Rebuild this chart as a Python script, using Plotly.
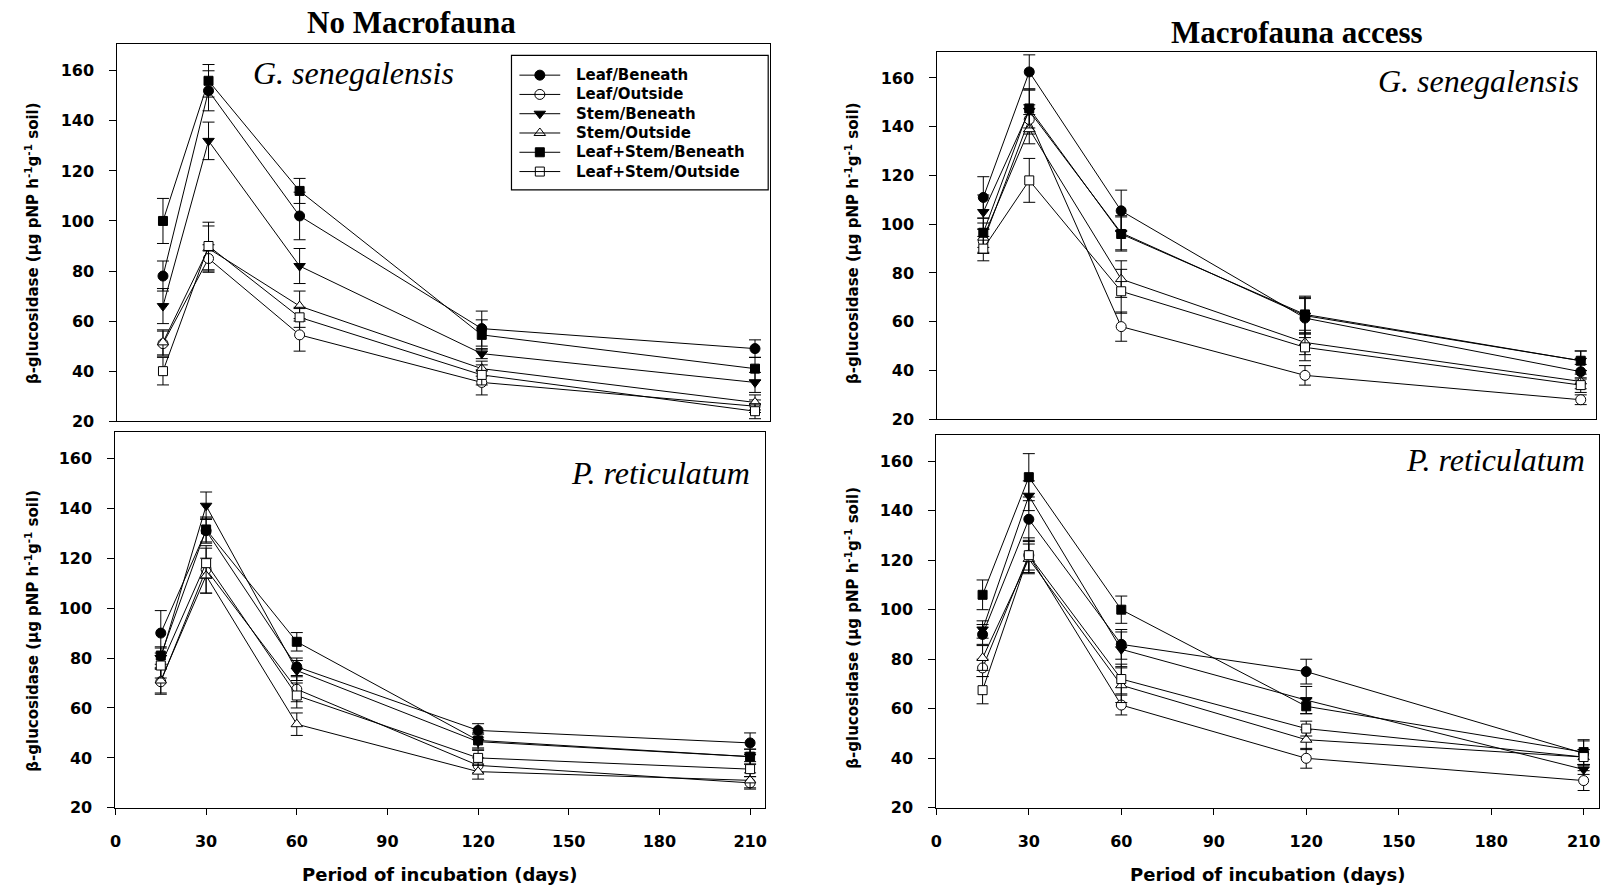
import plotly.graph_objects as go

W, H = 1610, 891

# Sampling dates (days of incubation)
DAYS = [15, 30, 60, 120, 210]

SERIES = ["Leaf/Beneath", "Leaf/Outside", "Stem/Beneath", "Stem/Outside",
          "Leaf+Stem/Beneath", "Leaf+Stem/Outside"]

X_TICKS = [0, 30, 60, 90, 120, 150, 180, 210]
Y_TICKS = [20, 40, 60, 80, 100, 120, 140, 160]

# No macrofauna - G. senegalensis (mean and standard error per series)
NM_GS_MEAN = [
    [78, 152, 102, 57, 49],
    [51, 85, 54.5, 35.5, 26],
    [66, 132, 82, 47, 35.5],
    [51.5, 89, 66, 41, 27.5],
    [100, 156, 112, 54.5, 41],
    [40, 90, 61.5, 38.5, 24],
]
NM_GS_ERR = [
    [6, 8, 9.5, 7, 3.5],
    [5, 5.5, 6.5, 5, 2.5],
    [7, 7.5, 7, 2, 4],
    [5, 9, 6, 3, 3],
    [9, 6.5, 5, 6, 4.5],
    [5.5, 9.5, 4, 4, 3],
]

# Macrofauna access - G. senegalensis
MA_GS_MEAN = [
    [111, 162.5, 105.5, 61.5, 39.5],
    [93, 143, 58, 38, 28],
    [105, 146.5, 96.5, 62.5, 44],
    [94.5, 139, 77.5, 51.5, 35.5],
    [96.5, 147.5, 96, 63, 44],
    [90, 118, 72.5, 49.5, 34],
]
MA_GS_ERR = [
    [8.5, 7, 8.5, 8, 3],
    [5, 6, 6, 4, 2],
    [7, 8.5, 7, 7.5, 4],
    [6, 6, 7.5, 5, 3],
    [6, 8, 7, 7.5, 4],
    [5, 9, 9, 5.5, 3],
]

# No macrofauna - P. reticulatum
NM_PR_MEAN = [
    [90, 131, 76.5, 51, 46],
    [70.5, 115.5, 67.5, 37, 30],
    [80, 141, 75, 46.5, 40.5],
    [71, 113, 53.5, 34.5, 31],
    [81, 131.5, 86.5, 47, 40.5],
    [77, 118, 65, 40, 35.5],
]
NM_PR_ERR = [
    [9, 5, 3.5, 2.7, 4],
    [5, 9.5, 5, 3, 2.5],
    [4, 5.5, 4, 3, 3],
    [5, 7, 4.5, 3, 3],
    [3.5, 5, 3.7, 3, 3],
    [5, 6, 5, 3, 3],
]

# Macrofauna access - P. reticulatum
MA_PR_MEAN = [
    [90, 136.5, 86, 75, 42],
    [76.5, 122, 61.5, 40, 31],
    [92, 146, 84, 63.5, 35.5],
    [80.5, 120.5, 69.5, 47.5, 40.5],
    [106, 153.5, 100, 61, 42.5],
    [67.5, 122, 72, 52, 40.5],
]
MA_PR_ERR = [
    [4, 9, 6, 5, 5],
    [3.5, 7, 4, 4, 4],
    [3.5, 6, 7, 5.5, 2],
    [5, 6, 7, 4, 3],
    [6, 9.5, 5.5, 3, 5],
    [5.5, 6, 6, 3, 3],
]

# Marker look for each treatment: (symbol, fill, size)
MARKERS = [
    ("circle", "black", 10),
    ("circle", "white", 10),
    ("triangle-down", "black", 10),
    ("triangle-up", "white", 10),
    ("square", "black", 9),
    ("square", "white", 9),
]

SANS = "DejaVu Sans"
SERIF = "Liberation Serif"


def px_x(p):
    return p / W


def px_y(p):
    return 1 - p / H


# Panel boxes in pixels: (left, top, right, bottom)
PANELS = [
    ("x", "y", (112, 45, 768, 426), NM_GS_MEAN, NM_GS_ERR, False),
    ("x2", "y2", (936, 53, 1598, 424), MA_GS_MEAN, MA_GS_ERR, False),
    ("x3", "y3", (110, 437, 763, 817), NM_PR_MEAN, NM_PR_ERR, True),
    ("x4", "y4", (935, 440, 1601, 817), MA_PR_MEAN, MA_PR_ERR, True),
]

fig = go.Figure()
layout_axes = {}

for xa, ya, (l, t, r, b), means, errs, bottom in PANELS:
    for name, mean, err, (sym, fill, size) in zip(SERIES, means, errs, MARKERS):
        fig.add_trace(go.Scatter(
            x=DAYS, y=mean, name=name, xaxis=xa, yaxis=ya,
            mode="lines+markers", showlegend=False, cliponaxis=False,
            line=dict(color="black", width=1),
            marker=dict(symbol=sym, size=size, color=fill,
                        line=dict(color="black", width=1)),
            error_y=dict(type="data", array=err, visible=True,
                         color="black", thickness=1, width=6),
        ))
    xkey = "xaxis" + xa[1:]
    ykey = "yaxis" + ya[1:]
    layout_axes[xkey] = dict(
        domain=[px_x(l), px_x(r)], range=[0, 215], anchor=ya,
        showline=True, linecolor="black", linewidth=1.2, mirror=True,
        showgrid=False, zeroline=False,
        tickmode="array", tickvals=X_TICKS,
        ticks="outside" if bottom else "", ticklen=6, tickcolor="black",
        showticklabels=bottom, ticklabelstandoff=13,
        tickfont=dict(family=SANS, size=16, color="black", weight="bold"),
    )
    layout_axes[ykey] = dict(
        domain=[px_y(b), px_y(t)], range=[20, 170.5], anchor=xa,
        showline=True, linecolor="black", linewidth=1.2, mirror=True,
        showgrid=False, zeroline=False,
        tickmode="array", tickvals=Y_TICKS,
        ticks="outside", ticklen=7, tickcolor="black",
        ticklabelstandoff=12,
        tickfont=dict(family=SANS, size=16, color="black", weight="bold"),
    )

# Pixel-space axes used for the legend glyphs
layout_axes["xaxis5"] = dict(domain=[0, 1], range=[0, W], visible=False,
                             anchor="y5", fixedrange=True)
layout_axes["yaxis5"] = dict(domain=[0, 1], range=[H, 0], visible=False,
                             anchor="x5", fixedrange=True)

LEG_BOX = (508, 56, 766, 192)
LEG_ROWS = [76, 95.5, 115, 134.5, 154, 173.5]
LEG_LINE = (516, 557)
LEG_TEXT_X = 571

shapes = [dict(type="rect", xref="paper", yref="paper",
               x0=px_x(LEG_BOX[0]), x1=px_x(LEG_BOX[2]),
               y0=px_y(LEG_BOX[3]), y1=px_y(LEG_BOX[1]),
               line=dict(color="black", width=1.2), fillcolor="white",
               layer="below")]

annotations = []
for name, (sym, fill, size), yy in zip(SERIES, MARKERS, LEG_ROWS):
    shapes.append(dict(type="line", xref="paper", yref="paper",
                       x0=px_x(LEG_LINE[0]), x1=px_x(LEG_LINE[1]),
                       y0=px_y(yy), y1=px_y(yy),
                       line=dict(color="black", width=1)))
    fig.add_trace(go.Scatter(
        x=[(LEG_LINE[0] + LEG_LINE[1]) / 2], y=[yy], xaxis="x5", yaxis="y5",
        mode="markers", showlegend=False, hoverinfo="skip",
        marker=dict(symbol=sym, size=size, color=fill,
                    line=dict(color="black", width=1)),
    ))
    annotations.append(dict(
        text=name, x=px_x(LEG_TEXT_X), y=px_y(yy), xref="paper", yref="paper",
        xanchor="left", yanchor="middle", showarrow=False,
        font=dict(family=SANS, size=15, color="black", weight="bold"),
    ))

# Column titles
for text, cx, cy in [("No Macrofauna", 408, 23), ("Macrofauna access", 1297, 33)]:
    annotations.append(dict(
        text=text, x=px_x(cx), y=px_y(cy), xref="paper", yref="paper",
        xanchor="center", yanchor="middle", showarrow=False,
        font=dict(family=SERIF, size=31, color="black", weight="bold"),
    ))

# Species labels inside panels
for text, xx, yy, anchor in [
    ("G. senegalensis", 349, 74, "center"),
    ("G. senegalensis", 1583, 82, "right"),
    ("P. reticulatum", 750, 478, "right"),
    ("P. reticulatum", 1589, 465, "right"),
]:
    annotations.append(dict(
        text=text, x=px_x(xx), y=px_y(yy), xref="paper", yref="paper",
        xanchor=anchor, yanchor="middle", showarrow=False,
        font=dict(family=SERIF, size=32, color="black", style="italic"),
    ))

# Axis titles
Y_TITLE = "β-glucosidase (µg pNP h<sup>-1</sup>g<sup>-1</sup> soil)"
for xx, yy in [(26, 246), (850, 246), (26, 638), (850, 635)]:
    annotations.append(dict(
        text=Y_TITLE, x=px_x(xx), y=px_y(yy), xref="paper", yref="paper",
        xanchor="center", yanchor="middle", textangle=-90, showarrow=False,
        font=dict(family=SANS, size=15, color="black", weight="bold"),
    ))

for xx in (436, 1268):
    annotations.append(dict(
        text="Period of incubation (days)", x=px_x(xx), y=px_y(884),
        xref="paper", yref="paper", xanchor="center", yanchor="middle",
        showarrow=False,
        font=dict(family=SANS, size=18, color="black", weight="bold"),
    ))

fig.update_layout(
    width=W, height=H, margin=dict(l=0, r=0, t=0, b=0),
    paper_bgcolor="white", plot_bgcolor="rgba(0,0,0,0)",
    showlegend=False, shapes=shapes, annotations=annotations,
    **layout_axes,
)

fig.write_html("out.html")
